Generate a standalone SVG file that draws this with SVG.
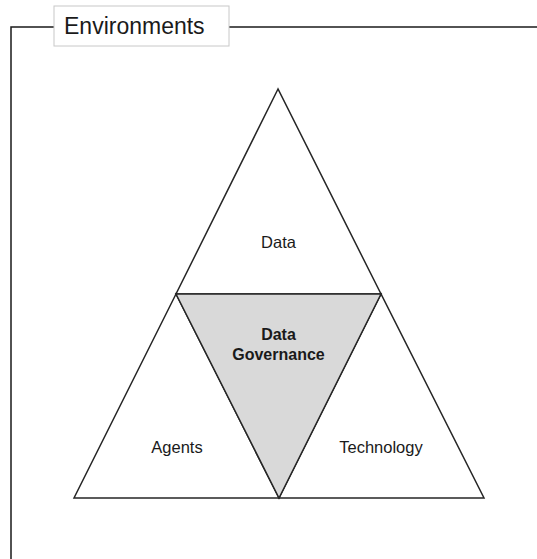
<svg xmlns="http://www.w3.org/2000/svg" width="537" height="559" viewBox="0 0 537 559">
<style>
.tri{fill:#ffffff;stroke:#262626;stroke-width:1.5;stroke-linejoin:miter}
.core{fill:#d9d9d9;stroke:#262626;stroke-width:1.5}
.lbl{font-family:"Liberation Sans",Arial,sans-serif;font-size:16.5px;fill:#1a1a1a;text-anchor:middle}
.bold{font-weight:bold;font-size:16px}
.frame{fill:none;stroke:#1a1a1a;stroke-width:1.5}
</style>
<rect width="537" height="559" fill="#ffffff"/>
<g id="environments">
<polyline class="frame" points="54,27 11,27 11,559"/>
<line class="frame" x1="229" y1="27" x2="537" y2="27"/>
<rect x="54" y="6" width="175" height="40" fill="#ffffff" stroke="#c8c8c8" stroke-width="1"/>
<text x="64" y="34" style="font-family:'Liberation Sans',Arial,sans-serif;font-size:23px;fill:#1a1a1a">Environments</text>
</g>
<g id="data">
<polygon class="tri" points="278,89 176,294 381,294"/>
<text class="lbl" x="278.5" y="247.5">Data</text>
</g>
<g id="agents">
<polygon class="tri" points="176,294 74,498 279,498"/>
<text class="lbl" x="177" y="452.5">Agents</text>
</g>
<g id="technology">
<polygon class="tri" points="381,294 279,498 484,498"/>
<text class="lbl" x="381" y="452.5">Technology</text>
</g>
<g id="data-governance">
<polygon class="core" points="176,294 381,294 279,498"/>
<text class="lbl bold" x="278.5" y="340">Data</text>
<text class="lbl bold" x="278.5" y="360">Governance</text>
</g>
<g id="connectors"></g>
</svg>
